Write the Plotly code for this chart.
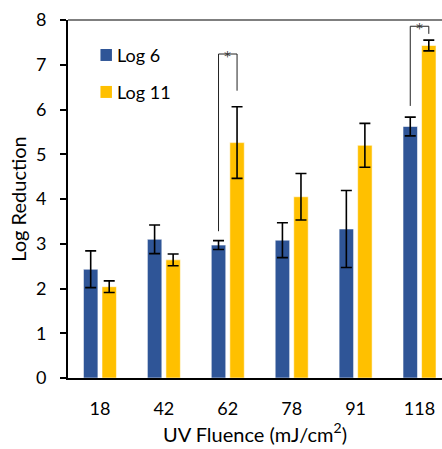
import plotly.graph_objects as go

# UV fluence levels (mJ/cm2) and mean log reduction with standard deviations
fluence = ["18", "42", "62", "78", "91", "118"]
log6_mean = [2.43, 3.10, 2.97, 3.08, 3.33, 5.62]
log6_sd = [0.41, 0.32, 0.10, 0.39, 0.86, 0.21]
log11_mean = [2.04, 2.64, 5.26, 4.05, 5.20, 7.43]
log11_sd = [0.13, 0.13, 0.80, 0.52, 0.49, 0.12]

# significance brackets: group, left foot, right foot, bracket top
sig_fluence = ["62", "118"]
sig_left_foot = [3.28, 6.08]
sig_right_foot = [6.42, 7.69]
sig_top = [7.24, 7.86]

BLUE = "#2F5597"
GOLD = "#FFC000"
FONT = "Lato"
BARGAP = 0.42
BARGROUPGAP = 0.22

W, H = 442, 449
ML, MR, MT, MB = 67.5, 0, 20, 70.7
plot_w = W - ML - MR
plot_h = H - MT - MB
cat_px = 64.0  # pixels per category

fig = go.Figure()
err_style = dict(type="data", visible=True, color="black", thickness=1.6, width=5.5)
fig.add_trace(go.Bar(
    x=fluence, y=log6_mean, name="Log 6",
    marker=dict(color=BLUE, line=dict(color="rgba(255,255,255,0.55)", width=1)),
    error_y=dict(array=log6_sd, **err_style),
))
fig.add_trace(go.Bar(
    x=fluence, y=log11_mean, name="Log 11",
    marker=dict(color=GOLD, line=dict(color="rgba(255,255,255,0.55)", width=1)),
    error_y=dict(array=log11_sd, **err_style),
))

# bar centre offset within a group (two bars per category)
half = (1 - BARGAP) / 4
shapes = []
annotations = []
for g, yl, yr, yt in zip(sig_fluence, sig_left_foot, sig_right_foot, sig_top):
    i = fluence.index(g)
    xl, xr = i - half, i + half
    line = dict(color="#222222", width=1)
    shapes.append(dict(type="path", xref="x", yref="y",
                       path=f"M {xl},{yl} L {xl},{yt} L {xr},{yt} L {xr},{yr}",
                       line=line))
    annotations.append(dict(x=i, y=yt, xref="x", yref="y", text="*",
                            showarrow=False, xanchor="center", yanchor="middle",
                            yshift=-2, font=dict(family="DejaVu Sans", size=14, color="#333333")))

# top frame line
shapes.append(dict(type="line", xref="paper", yref="paper", x0=0, x1=1, y0=1, y1=1,
                   line=dict(color="black", width=1.2)))

# legend drawn as swatches + labels
def px_x(px):
    return (px - ML) / plot_w

def px_y(py):
    return 1 - (py - MT) / plot_h

legend_items = [("Log 6", BLUE, 55), ("Log 11", GOLD, 92)]
for label, color, cy in legend_items:
    shapes.append(dict(type="rect", xref="paper", yref="paper",
                       x0=px_x(100), x1=px_x(111.5), y0=px_y(cy - 6), y1=px_y(cy + 6),
                       fillcolor=color, line=dict(width=0)))
    annotations.append(dict(x=px_x(115), y=px_y(cy), xref="paper", yref="paper",
                            text=label, showarrow=False, xanchor="left", yanchor="middle",
                            font=dict(family=FONT, size=18, color="black")))

fig.update_layout(
    width=W, height=H,
    margin=dict(l=ML, r=MR, t=MT, b=MB, pad=0),
    paper_bgcolor="white", plot_bgcolor="white",
    barmode="group", bargap=BARGAP, bargroupgap=BARGROUPGAP,
    showlegend=False,
    font=dict(family=FONT, color="black"),
    shapes=shapes, annotations=annotations,
    xaxis=dict(
        type="category", categoryorder="array", categoryarray=fluence,
        range=[-0.5, -0.5 + plot_w / cat_px],
        showline=True, linecolor="black", linewidth=1.8,
        ticks="", showgrid=False, zeroline=False,
        tickfont=dict(family=FONT, size=18),
        ticklabelstandoff=13,
        title=dict(text="UV Fluence (mJ/cm<sup>2</sup>)", font=dict(family=FONT, size=20), standoff=10),
    ),
    yaxis=dict(
        range=[0, 8], dtick=1, showline=True, linecolor="black", linewidth=2,
        ticks="outside", ticklen=6, tickwidth=1.5, tickcolor="black",
        showgrid=False, zeroline=False,
        tickfont=dict(family=FONT, size=18),
        ticklabelstandoff=10,
        title=dict(text="Log Reduction", font=dict(family=FONT, size=20), standoff=4),
    ),
)

fig.write_html("out.html")
